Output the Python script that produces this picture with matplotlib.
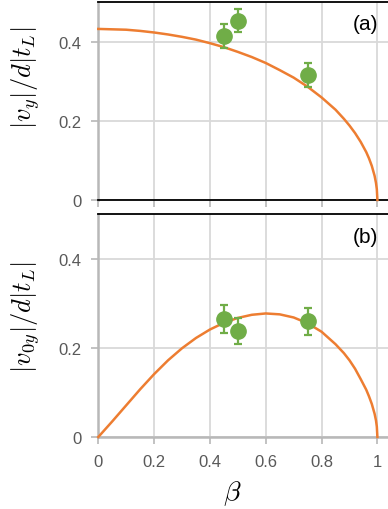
import matplotlib
matplotlib.use('Agg')
import matplotlib.pyplot as plt
from matplotlib.ticker import FuncFormatter

# theory curves, values
beta_curve = [0, 0.05, 0.1, 0.15, 0.2, 0.25, 0.3, 0.35, 0.4, 0.45, 0.5, 0.55,
              0.6, 0.65, 0.7, 0.75, 0.8, 0.85, 0.88, 0.9, 0.92, 0.94, 0.96,
              0.97, 0.98, 0.99, 0.995, 0.998, 1.0]
vy_curve = [0.432, 0.431, 0.430, 0.427, 0.423, 0.418, 0.412, 0.405, 0.396,
            0.386, 0.374, 0.361, 0.346, 0.328, 0.309, 0.286, 0.259, 0.228,
            0.205, 0.188, 0.169, 0.147, 0.121, 0.105, 0.086, 0.061, 0.043,
            0.027, 0.0]
v0y_curve = [0.0, 0.035, 0.071, 0.107, 0.141, 0.172, 0.199, 0.222, 0.241,
             0.256, 0.267, 0.274, 0.277, 0.275, 0.268, 0.255, 0.236, 0.208,
             0.188, 0.172, 0.153, 0.130, 0.106, 0.091, 0.074, 0.052, 0.037,
             0.023, 0.0]

# measured points
beta_pts = [0.45, 0.5, 0.75]
vy_pts = [0.415, 0.453, 0.315]
vy_err = [0.03, 0.03, 0.03]
v0y_pts = [0.265, 0.238, 0.259]
v0y_err = [0.031, 0.029, 0.03]

xticks = [0, 0.2, 0.4, 0.6, 0.8, 1.0]
yticks = [0, 0.2, 0.4]

orange = '#ED7D31'
green = '#70AD47'
grid_c = '#d9d9d9'
spine_gray = '#b8b8b8'
text_gray = '#595959'

plt.rcParams['font.family'] = ['Liberation Sans', 'DejaVu Sans']
plt.rcParams['mathtext.fontset'] = 'cm'

fig = plt.figure(figsize=(3.88, 5.10), dpi=100)
W, H = 388.0, 510.0
left = 98.3 / W
ax1 = fig.add_axes([left, (H - 201) / H, 1 - left, 198 / H])
ax2 = fig.add_axes([left, (H - 438) / H, 1 - left, 223 / H])

fmt = FuncFormatter(lambda v, p: '%g' % round(v, 2))

panels = [
    (ax1, vy_curve, vy_pts, vy_err, r'$|v_y|/d|t_L|$', '(a)', 0.62),
    (ax2, v0y_curve, v0y_pts, v0y_err, r'$|v_{0y}|/d|t_L|$', '(b)', 0.54),
]

for ax, curve, pts, err, ylab, tag, ly in panels:
    ax.set_xlim(0, 1.038)
    ax.set_ylim(0, 0.5)
    ax.set_xticks(xticks)
    ax.set_yticks(yticks)
    ax.xaxis.set_major_formatter(fmt)
    ax.yaxis.set_major_formatter(fmt)
    ax.grid(True, color=grid_c, lw=1.3, zorder=0)
    ax.set_axisbelow(True)
    ax.plot(beta_curve, curve, color=orange, lw=1.8, zorder=3, clip_on=False)
    ax.errorbar(beta_pts, pts, yerr=err, fmt='o', color=green, ms=11,
                elinewidth=1.6, capsize=3, capthick=1.6, zorder=4)
    ax.tick_params(colors=spine_gray, labelcolor=text_gray, labelsize=12,
                   length=5, width=1.2, pad=7)
    ax.spines['right'].set_visible(False)
    ax.spines['left'].set_color(spine_gray)
    ax.spines['left'].set_linewidth(1.8)
    ax.spines['top'].set_color('black')
    ax.spines['top'].set_linewidth(1.3)
    ax.set_ylabel(ylab, fontsize=19, color='black')
    ax.yaxis.set_label_coords(-0.194, ly)
    ax.text(0.965, 0.94, tag, transform=ax.transAxes, ha='right', va='top',
            fontsize=15, color='black')

ax1.spines['bottom'].set_color('black')
ax1.spines['bottom'].set_linewidth(1.3)
ax1.tick_params(axis='x', labelbottom=False)
ax2.spines['bottom'].set_color(spine_gray)
ax2.spines['bottom'].set_linewidth(1.8)
ax2.set_xlabel(r'$\beta$', fontsize=20)
ax2.xaxis.set_label_coords(0.461, -0.185)

fig.savefig('out.png', dpi=100)
